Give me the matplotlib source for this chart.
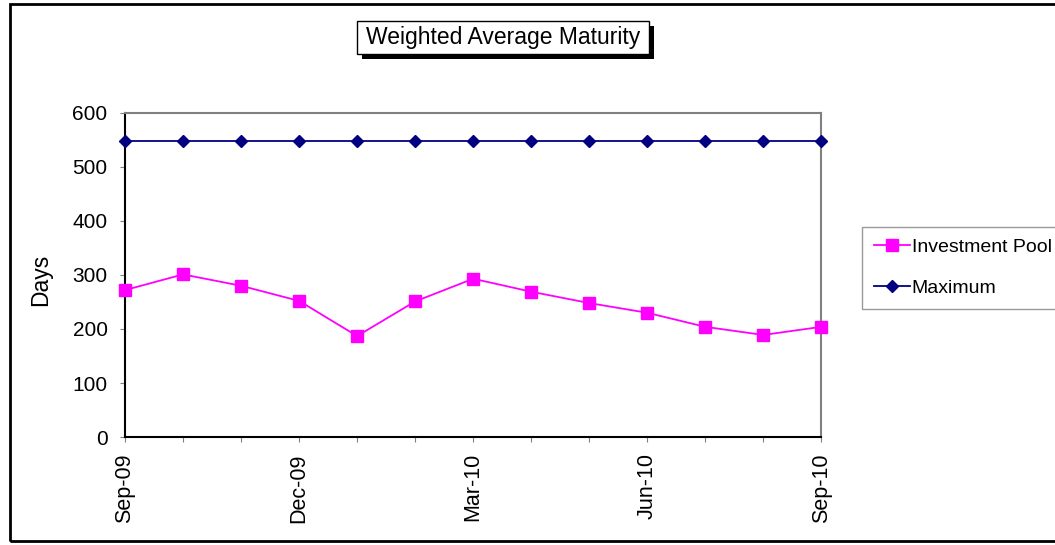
import matplotlib.pyplot as plt
from matplotlib.patches import Rectangle

plt.rcParams['font.family'] = ['Liberation Sans', 'DejaVu Sans']

# monthly data, Sep-09 .. Sep-10
months = ["Sep-09", "Oct-09", "Nov-09", "Dec-09", "Jan-10", "Feb-10", "Mar-10",
          "Apr-10", "May-10", "Jun-10", "Jul-10", "Aug-10", "Sep-10"]
investment_pool = [272, 301, 280, 252, 187, 251, 293, 269, 248, 230, 204, 189, 204]
maximum = [548] * 13

fig = plt.figure(figsize=(10.55, 5.45), dpi=100)
ax = fig.add_axes([0.1185, 0.198, 0.66, 0.595])

x = list(range(len(months)))
ax.plot(x, investment_pool, color="#ff00ff", marker="s", markersize=8,
        linewidth=1.3, label="Investment Pool", clip_on=False, zorder=3)
ax.plot(x, maximum, color="#000080", marker="D", markersize=6,
        linewidth=1.3, label="Maximum", clip_on=False, zorder=3)

ax.set_xlim(0, len(months) - 1)
ax.set_ylim(0, 600)
ax.set_yticks(range(0, 601, 100))
ax.set_xticks(x)
ax.set_xticklabels([m if i % 3 == 0 else "" for i, m in enumerate(months)],
                   rotation=90)
ax.tick_params(axis="both", direction="out", color="#808080", length=3.6)
ax.tick_params(axis="y", labelsize=15, pad=9)
ax.tick_params(axis="x", labelsize=15.5, pad=8)
ax.set_ylabel("Days", fontsize=16.5)
ax.yaxis.set_label_coords(-0.105, 0.485)

for side in ("left", "bottom"):
    ax.spines[side].set_color("black")
    ax.spines[side].set_linewidth(1.5)
for side in ("top", "right"):
    ax.spines[side].set_color("#808080")
    ax.spines[side].set_linewidth(1.5)

leg = fig.legend(loc="upper left", bbox_to_anchor=(862 / 1055, (545 - 227) / 545),
                 fontsize=14, frameon=True, fancybox=False, handlelength=1.85,
                 handletextpad=0.1, borderpad=0.6, labelspacing=1.2,
                 borderaxespad=0)
leg.get_frame().set_edgecolor("#808080")
leg.get_frame().set_linewidth(1.0)

# title box with drop shadow
fig.patches.append(Rectangle((0.3384 + 0.0047, 0.9009 - 0.0092), 0.2768, 0.0606,
                             transform=fig.transFigure, facecolor="black",
                             zorder=1))
fig.patches.append(Rectangle((0.3384, 0.9009), 0.2768, 0.0606,
                             transform=fig.transFigure, facecolor="white",
                             edgecolor="black", linewidth=1.0, zorder=2))
fig.text(0.3384 + 0.2768 / 2, 0.9009 + 0.0303, "Weighted Average Maturity",
         fontsize=16.5, ha="center", va="center", zorder=3)

# outer chart border
fig.patches.append(Rectangle((0.0095, 0.007), 1.0, 0.985,
                             transform=fig.transFigure, fill=False,
                             edgecolor="black", linewidth=2))

fig.savefig("out.png", dpi=100)
